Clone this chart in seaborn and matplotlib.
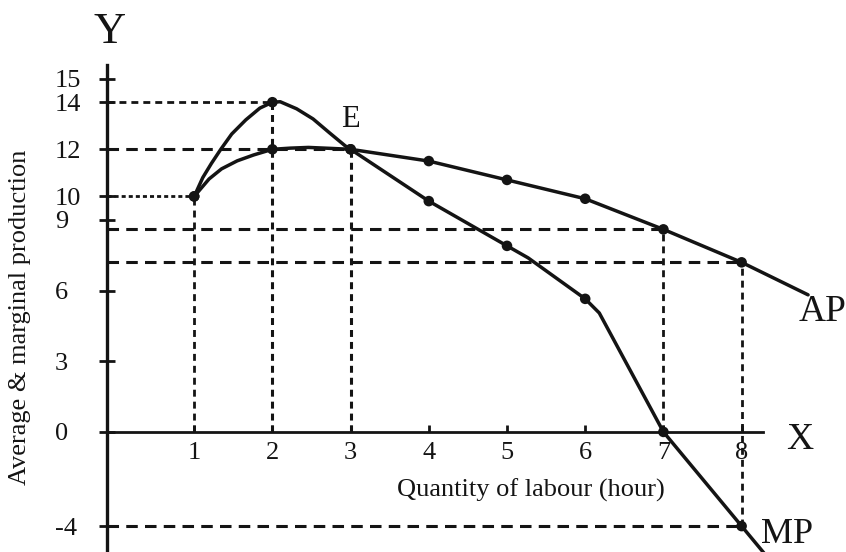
import matplotlib
matplotlib.use("Agg")
import matplotlib.pyplot as plt
import pandas as pd
import seaborn as sns

# labour hours, with a marked point on each curve
labour = [1, 2, 3, 4, 5, 6, 7, 8]
ap_points = [10, 12, 12, 11.5, 10.7, 9.9, 8.6, 7.2]
mp_points = [10, 14, 12, 9.8, 7.9, 5.65, 0, -4]

# points (between and past the markers)
ap_curve_x = [1, 1.19, 1.35, 1.55, 1.76, 2, 2.23, 2.46, 2.74, 3, 4, 5, 6, 7, 8, 8.85]
ap_curve_y = [10, 10.74, 11.17, 11.51, 11.76, 12, 12.05, 12.08, 12.04, 12, 11.5, 10.7, 9.9, 8.6, 7.2, 5.82]
mp_curve_x = [1, 1.11, 1.22, 1.34, 1.48, 1.66, 1.84, 2, 2.1, 2.31, 2.52, 2.73, 2.93, 3,
              4, 5, 5.27, 6, 6.18, 7, 8, 8.4]
mp_curve_y = [10, 10.8, 11.4, 12.0, 12.65, 13.25, 13.75, 14, 14.02, 13.72, 13.29, 12.7, 12.15, 12,
              9.8, 7.9, 7.39, 5.65, 5.05, 0, -4, -5.6]

y_ticks = [-4, 0, 3, 6, 9, 10, 12, 14, 15]
y_ticklabels = ["-4", "0", "3", "6", "9", "10", "12", "14", "15"]

INK = "#141414"
FINE = (0, (2.9, 2.2))
SHORT = (0, (5.0, 3.6))
LONG = (0, (8.3, 5.2))

sns.set_theme(style="white")
plt.rcParams["font.family"] = ["Liberation Serif", "DejaVu Serif"]
plt.rcParams["lines.scale_dashes"] = False

fig = plt.figure(figsize=(8.46, 5.52), dpi=100)
ax = fig.add_axes([107 / 846, 0, 1 - 107 / 846, 487 / 552])
x_left, x_right = -0.115, 9.335
y_bottom, y_top = -5.10, 15.58
ax.set_xlim(x_left, x_right)
ax.set_ylim(y_bottom, y_top)

# guide lines
ax.hlines(mp_points[1], x_left, labour[1], colors=INK, lw=2.0, linestyles=[SHORT], zorder=1)
ax.hlines(ap_points[1], x_left, labour[2], colors=INK, lw=2.2, linestyles=[LONG], zorder=1)
ax.hlines(ap_points[0], x_left, labour[0], colors=INK, lw=2.0, linestyles=[FINE], zorder=1)
ax.hlines(ap_points[6], x_left, labour[6], colors=INK, lw=2.2, linestyles=[LONG], zorder=1)
ax.hlines(ap_points[7], x_left, labour[7], colors=INK, lw=2.2, linestyles=[LONG], zorder=1)
ax.hlines(mp_points[7], x_left, labour[7], colors=INK, lw=2.2, linestyles=[LONG], zorder=1)
ax.vlines(labour[0], 0, ap_points[0], colors=INK, lw=2.0, linestyles=[SHORT], zorder=1)
ax.vlines(labour[1], 0, mp_points[1], colors=INK, lw=2.2, linestyles=[SHORT], zorder=1)
ax.vlines(labour[2], 0, ap_points[2], colors=INK, lw=2.2, linestyles=[SHORT], zorder=1)
ax.vlines(labour[6], 0, ap_points[6], colors=INK, lw=2.0, linestyles=[SHORT], zorder=1)
ax.vlines(labour[7], mp_points[7], ap_points[7], colors=INK, lw=2.0, linestyles=[SHORT], zorder=1)

# curves
ap_df = pd.DataFrame({"labour": ap_curve_x, "value": ap_curve_y})
mp_df = pd.DataFrame({"labour": mp_curve_x, "value": mp_curve_y})
for df in (ap_df, mp_df):
    sns.lineplot(data=df, x="labour", y="value", sort=False, estimator=None,
                 color=INK, lw=2.5, ax=ax, zorder=3, solid_joinstyle="round")

pts = pd.DataFrame({"labour": labour * 2, "value": ap_points + mp_points})
sns.scatterplot(data=pts, x="labour", y="value", s=58, color=INK,
                edgecolor="none", ax=ax, zorder=4)

# axes styling
for side in ("top", "right"):
    ax.spines[side].set_visible(False)
ax.spines["left"].set_color(INK)
ax.spines["left"].set_linewidth(2.4)
ax.spines["bottom"].set_color(INK)
ax.spines["bottom"].set_linewidth(2.0)
ax.spines["bottom"].set_position(("data", 0))
ax.spines["bottom"].set_bounds(x_left, 8.27)

ax.set_xticks(labour)
ax.set_xticklabels([str(v) for v in labour])
ax.set_yticks(y_ticks)
ax.set_yticklabels(y_ticklabels)
ax.tick_params(axis="y", direction="inout", length=11, width=2.0, color=INK,
               labelsize=19, labelcolor=INK, pad=31.9, left=True)
ax.tick_params(axis="x", direction="in", length=5, width=2.0, color=INK,
               labelsize=19, labelcolor=INK, pad=7, bottom=True)
plt.setp(ax.get_yticklabels(), ha="left")
ax.set_xlabel("")
ax.set_ylabel("")
ax.grid(False)

ax.text(labour[2], 13.25, "E", fontsize=22, ha="center", va="center", color=INK)
fig.text(531 / 846, 1 - 490 / 552, "Quantity of labour (hour)", fontsize=19,
         ha="center", va="center", color=INK)
fig.text(20 / 846, 1 - 317 / 552, "Average & marginal production", fontsize=19,
         rotation=90, ha="center", va="center", color=INK)
fig.text(110 / 846, 1 - 32 / 552, "Y", fontsize=32, ha="center", va="center", color=INK)
fig.text(800 / 846, 1 - 440 / 552, "X", fontsize=27, ha="center", va="center", color=INK)
fig.text(823 / 846, 1 - 312 / 552, "AP", fontsize=27, ha="center", va="center", color=INK)
fig.text(787 / 846, 0.002, "MP", fontsize=26, ha="center", va="bottom", color=INK)

fig.savefig("out.png", dpi=100)
